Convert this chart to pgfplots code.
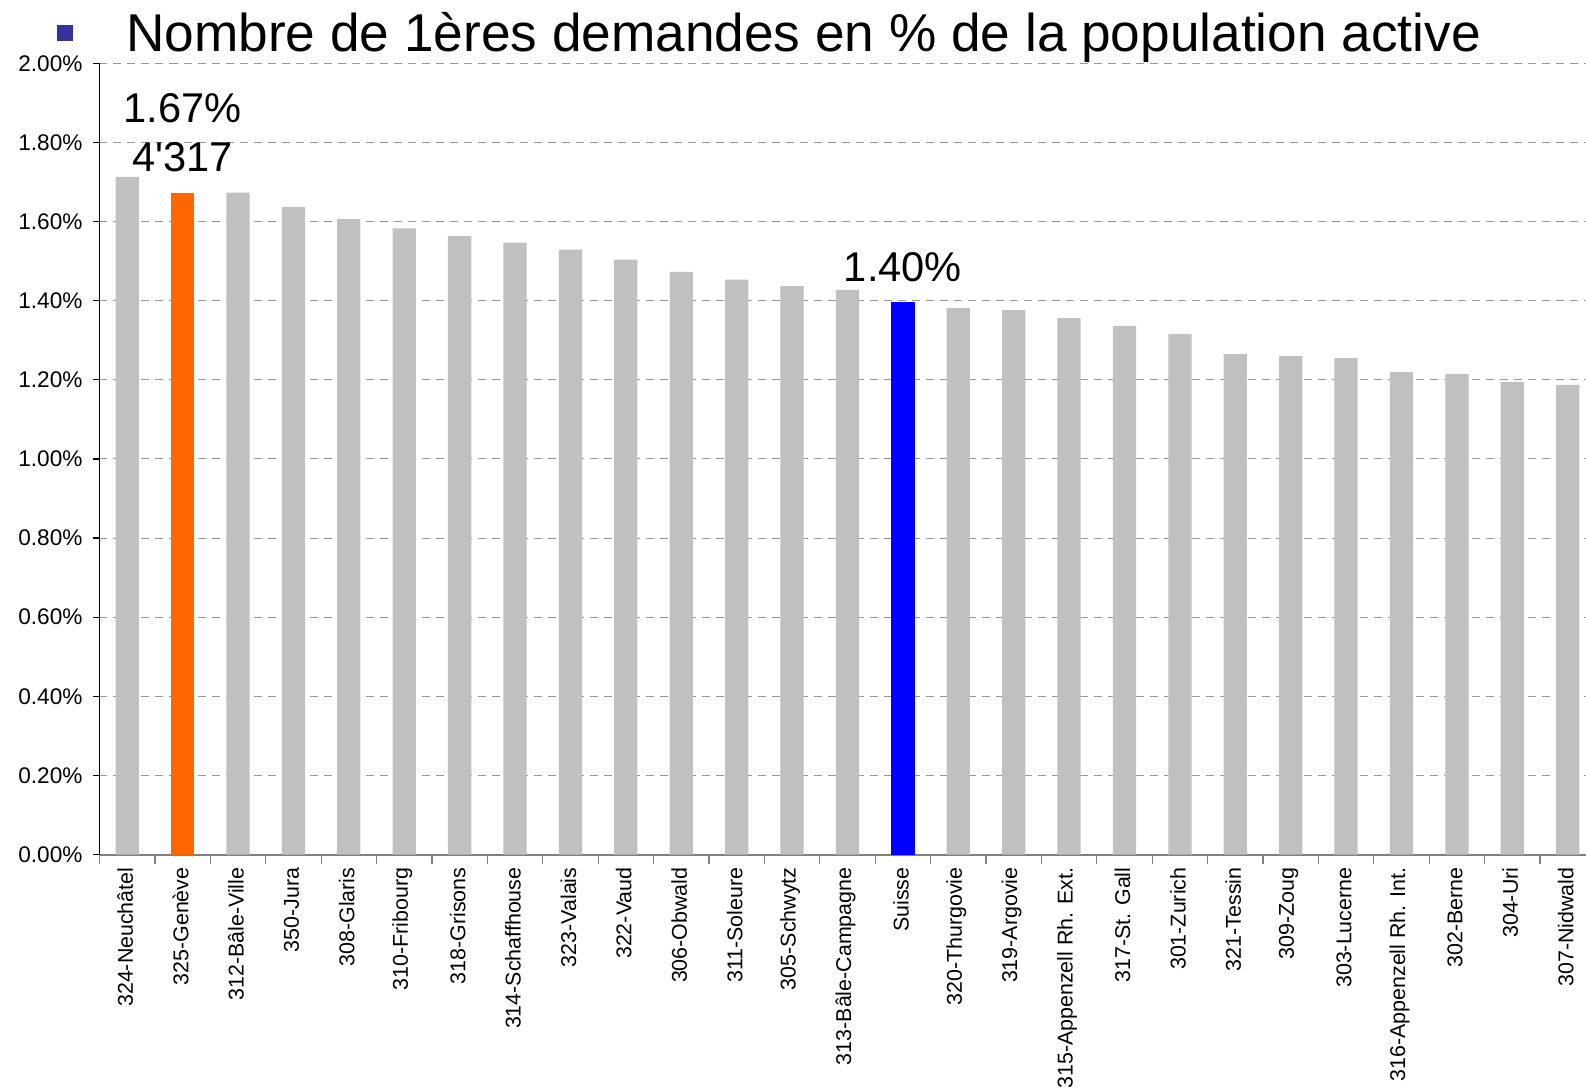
\documentclass[border=0pt]{standalone}
\usepackage{fontspec}
\setmainfont{Liberation Sans}
\newfontfamily\plainfont{Liberation Sans}
\usepackage{pgfplots}
\pgfplotsset{compat=1.18}
\definecolor{barGray}{HTML}{C0C0C0}
\definecolor{barOrange}{HTML}{FF6600}
\definecolor{barBlue}{HTML}{0000FF}
\definecolor{bulletBlue}{HTML}{333399}
\definecolor{gridGray}{HTML}{999999}
\definecolor{axGray}{HTML}{808080}
\begin{document}
\begin{tikzpicture}
\useasboundingbox (-49.75pt,-117.25pt) rectangle (743.25pt,427.25pt);
\begin{axis}[at={(0,0)}, anchor=south west, scale only axis,
  width=743.25pt, height=395.6pt,
  xmin=-0.5, xmax=26.33, ymin=0, ymax=2,
  axis lines*=left,
  x axis line style={axGray, line width=1pt},
  y axis line style={black, line width=0.7pt},
  clip=false,
  tick align=outside,
  ytick={0,0.2,...,2.01},
  yticklabel={\pgfmathprintnumber[fixed,fixed zerofill,precision=2]{\tick}\%},
  /pgf/number format/assume math mode=true,
  yticklabel style={font=\fontsize{11.3}{12}\selectfont, xshift=-2pt},
  major tick length=3pt, minor tick length=4.5pt,
  y tick style={black, line width=0.6pt},
  xtick={0,...,26},
  major x tick style={draw=none},
  minor xtick={-0.5,0.5,...,26.6},
  minor x tick style={axGray, line width=0.6pt},
  xticklabels={324-Neuchâtel,325-Genève,312-Bâle-Ville,350-Jura,308-Glaris,310-Fribourg,318-Grisons,314-Schaffhouse,323-Valais,322-Vaud,306-Obwald,311-Soleure,305-Schwytz,313-Bâle-Campagne,Suisse,320-Thurgovie,319-Argovie,315-Appenzell Rh. Ext.,317-St. Gall,301-Zurich,321-Tessin,309-Zoug,303-Lucerne,316-Appenzell Rh. Int.,302-Berne,304-Uri,307-Nidwald},
  xticklabel style={rotate=90, anchor=east, font=\fontsize{10.7}{12}\selectfont, yshift=1pt},
  ymajorgrids,
  grid style={gridGray, dash pattern=on 4pt off 3pt, line width=0.5pt},
  ybar, bar width=0.42, bar shift=0pt,
]
\addplot[fill=barGray, draw=none] coordinates {
 (0,1.713) (2,1.673) (3,1.637) (4,1.606) (5,1.583) (6,1.563) (7,1.547)
 (8,1.529) (9,1.504) (10,1.473) (11,1.453) (12,1.437) (13,1.427)
 (15,1.381) (16,1.376) (17,1.356) (18,1.336) (19,1.316) (20,1.265)
 (21,1.260) (22,1.255) (23,1.220) (24,1.215) (25,1.195) (26,1.187)};
\addplot[fill=barOrange, draw=none] coordinates {(1,1.673)};
\addplot[fill=barBlue, draw=none] coordinates {(14,1.396)};
\node[font=\fontsize{20.8}{22}\selectfont] at (axis cs:1,1.887) {1.67\%};
\node[font=\fontsize{20.8}{22}\selectfont\plainfont] at (axis cs:1,1.763) {4'317};
\node[font=\fontsize{20.8}{22}\selectfont] at (axis cs:14,1.485) {1.40\%};
\end{axis}
\fill[bulletBlue] (-21.25pt,406.75pt) rectangle (-13.25pt,414.75pt);
\node[anchor=base west, inner sep=0pt, font=\fontsize{26.6}{28}\selectfont] at (13.25pt,401.25pt) {Nombre de 1ères demandes en \% de la population active};
\end{tikzpicture}
\end{document}
